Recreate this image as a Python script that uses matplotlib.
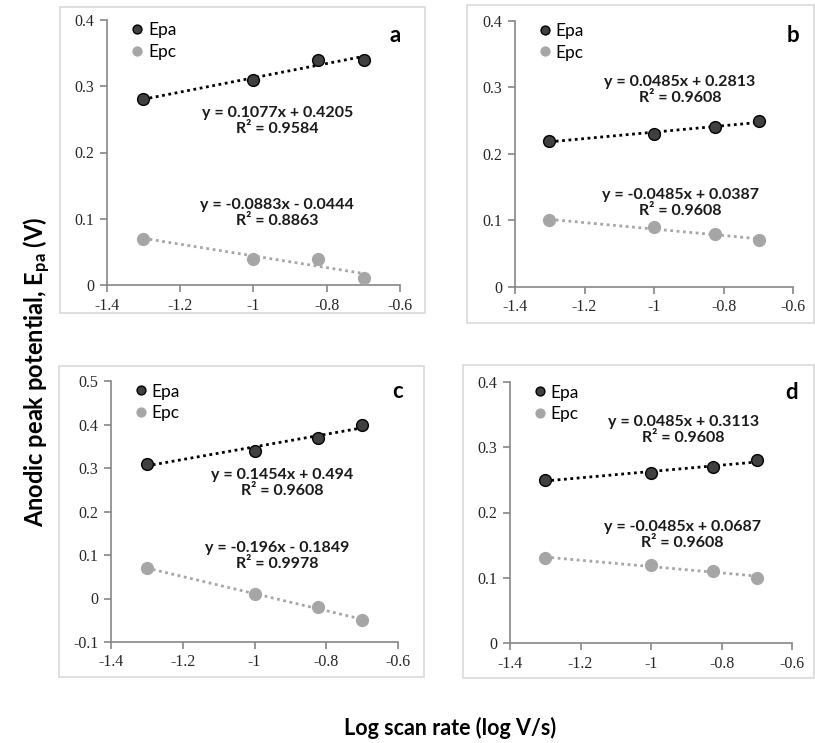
import matplotlib
matplotlib.use("Agg")
import matplotlib.pyplot as plt
from matplotlib.patches import Rectangle
from matplotlib.ticker import FuncFormatter
from matplotlib import font_manager
import numpy as np

# tick labels in a serif face, everything else set to Lato explicitly
names = {f.name for f in font_manager.fontManager.ttflist}
serif = 'Liberation Serif' if 'Liberation Serif' in names else 'DejaVu Serif'
plt.rcParams['font.family'] = 'serif'
plt.rcParams['font.serif'] = [serif, 'DejaVu Serif']
plt.rcParams['axes.unicode_minus'] = False
plt.rcParams['mathtext.fontset'] = 'custom'
plt.rcParams['mathtext.bf'] = 'Lato:bold'
plt.rcParams['mathtext.rm'] = 'Lato'

# log scan rate
log_rate = [-1.301, -1.0, -0.824, -0.699]

panels = ['a', 'b', 'c', 'd']
epa = {
    'a': [0.28, 0.31, 0.34, 0.34],
    'b': [0.22, 0.23, 0.24, 0.25],
    'c': [0.31, 0.34, 0.37, 0.40],
    'd': [0.25, 0.26, 0.27, 0.28],
}
epc = {
    'a': [0.07, 0.04, 0.04, 0.01],
    'b': [0.10, 0.09, 0.08, 0.07],
    'c': [0.07, 0.01, -0.02, -0.05],
    'd': [0.13, 0.12, 0.11, 0.10],
}
eq_epa = {
    'a': "y = 0.1077x + 0.4205\nR² = 0.9584",
    'b': "y = 0.0485x + 0.2813\nR² = 0.9608",
    'c': "y = 0.1454x + 0.494\nR² = 0.9608",
    'd': "y = 0.0485x + 0.3113\nR² = 0.9608",
}
eq_epc = {
    'a': "y = -0.0883x - 0.0444\nR² = 0.8863",
    'b': "y = -0.0485x + 0.0387\nR² = 0.9608",
    'c': "y = -0.196x - 0.1849\nR² = 0.9978",
    'd': "y = -0.0485x + 0.0687\nR² = 0.9608",
}
ylims = {'a': (0, 0.4), 'b': (0, 0.4), 'c': (-0.1, 0.5), 'd': (0, 0.4)}

W, H = 815, 743
# layout in pixels: axes (left, right, top, bottom), box (x0, y0, x1, y1), equation positions
ax_px = {'a': (107, 400, 20, 285), 'b': (515, 793, 21, 287),
         'c': (111, 398, 381, 642), 'd': (510, 792, 382, 643)}
box_px = {'a': (60, 7, 425, 313), 'b': (467, 5, 814, 323),
          'c': (59, 366, 424, 677), 'd': (463, 365, 814, 678)}
eq_pos = {'a': ((-0.935, 0.248), (-0.935, 0.109)),
          'b': ((-0.925, 0.296), (-0.925, 0.126)),
          'c': ((-0.923, 0.266), (-0.937, 0.097)),
          'd': ((-0.909, 0.327), (-0.912, 0.166))}
letter_pos = {'a': (0.983, 0.943), 'b': (1.0, 0.947), 'c': (1.0, 0.958), 'd': (1.0, 0.96)}

fig = plt.figure(figsize=(W / 100, H / 100), dpi=100)

for p in panels:
    x0, y0, x1, y1 = box_px[p]
    fig.patches.append(Rectangle((x0 / W, 1 - y1 / H), (x1 - x0) / W, (y1 - y0) / H,
                                 transform=fig.transFigure, fill=False,
                                 edgecolor='#d9d9d9', lw=1.2, zorder=0))

fmt = FuncFormatter(lambda v, pos: '%g' % round(v, 2))

for p in panels:
    l, r, t, b = ax_px[p]
    ax = fig.add_axes([l / W, 1 - b / H, (r - l) / W, (b - t) / H])
    ax.patch.set_alpha(0)
    x = np.array(log_rate)
    ya = np.array(epa[p])
    yc = np.array(epc[p])

    # linear trendlines
    ka = np.polyfit(x, ya, 1)
    kc = np.polyfit(x, yc, 1)
    xx = np.array([x.min(), x.max()])
    ax.plot(xx, np.polyval(ka, xx), color='black', lw=2, ls=(0, (1, 1.3)), zorder=2)
    ax.plot(xx, np.polyval(kc, xx), color='#a6a6a6', lw=2, ls=(0, (1, 1.3)), zorder=2)

    ax.plot(x, ya, 'o', ms=8.5, mfc='#404040', mec='black', mew=1, label='Epa', zorder=3)
    ax.plot(x, yc, 'o', ms=8.5, mfc='#a6a6a6', mec='#a6a6a6', mew=1, label='Epc', zorder=3)

    ax.set_xlim(-1.4, -0.6)
    ax.set_ylim(*ylims[p])
    ax.set_xticks(np.arange(-1.4, -0.59, 0.2))
    lo, hi = ylims[p]
    ax.set_yticks(np.arange(lo, hi + 0.001, 0.1))
    ax.xaxis.set_major_formatter(fmt)
    ax.yaxis.set_major_formatter(fmt)
    for s in ['top', 'right']:
        ax.spines[s].set_visible(False)
    for s in ['left', 'bottom']:
        ax.spines[s].set_color('#868686')
        ax.spines[s].set_linewidth(1.2)
    ax.tick_params(direction='out', length=5, width=1.2, color='#868686',
                   labelsize=11.5, labelcolor='#262626', pad=4)

    ax.legend(loc='upper left', bbox_to_anchor=(0.03, 1.05), frameon=False,
              handlelength=0.7, handletextpad=0.25, labelspacing=0.3,
              markerscale=0.75, prop={'family': 'Lato', 'size': 12.5})

    (ex1, ey1), (ex2, ey2) = eq_pos[p]
    ax.text(ex1, ey1, eq_epa[p], ha='center', va='center', fontsize=11.5,
            fontweight='bold', family='Lato', linespacing=1.2, color='#1a1a1a')
    ax.text(ex2, ey2, eq_epc[p], ha='center', va='center', fontsize=11.5,
            fontweight='bold', family='Lato', linespacing=1.2, color='#1a1a1a')

    lx, ly = letter_pos[p]
    ax.text(lx, ly, p, transform=ax.transAxes, ha='center', va='center',
            fontsize=16, fontweight='bold', family='Lato')

fig.text(37 / W, 1 - 372 / H, r'Anodic peak potential, $\mathbf{E_{pa}}$ (V)',
         rotation=90, ha='center', va='center', fontsize=17,
         fontweight='bold', family='Lato')
fig.text(450 / W, 1 - 728 / H, 'Log scan rate (log V/s)', ha='center', va='center',
         fontsize=15.5, fontweight='bold', family='Lato')

fig.savefig('out.png', dpi=100)
